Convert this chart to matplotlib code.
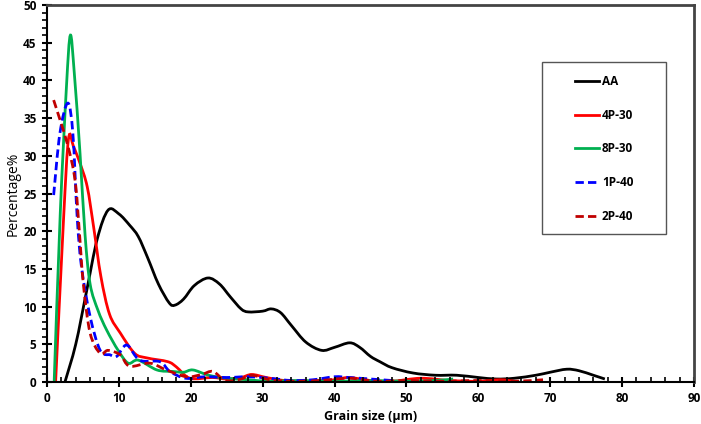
import matplotlib.pyplot as plt
import numpy as np
from matplotlib.lines import Line2D
from matplotlib.patches import PathPatch, Rectangle
from matplotlib.path import Path
from matplotlib.ticker import MultipleLocator

# AA
aa_x = [2.5, 4, 5.5, 7, 8.5, 10, 11.5, 12.7, 14, 15.5, 17, 17.8, 19, 20.5, 22.4, 24, 25.5, 27, 28,
        30, 31.2, 32.5, 34, 36, 38.2, 40, 42.1, 43.5, 45, 46.3, 48, 50.9, 54, 57, 60, 62.5, 65,
        68, 70, 72.3, 74, 76, 77.6]
aa_y = [0, 5, 12, 19, 22.8, 22.3, 20.8, 19.3, 16.5, 13, 10.5, 10.2, 11, 12.8, 13.8, 13, 11.3, 9.7, 9.3,
        9.4, 9.7, 9.2, 7.5, 5.3, 4.2, 4.6, 5.2, 4.6, 3.4, 2.7, 1.9, 1.2, 0.9, 0.9, 0.6, 0.4, 0.5,
        0.9, 1.3, 1.7, 1.5, 0.9, 0.4]

# 4P-30
p4_x = [1.2, 2.3, 3.0, 3.7, 4.6, 5.6, 6.5, 7.5, 8.7, 10.2, 12.2, 13.9, 16.8, 18, 19.9,
        23, 25, 27, 28.5, 30.5, 33, 36, 40, 42, 45, 48, 52, 56, 60, 63, 65]
p4_y = [0, 21.5, 32.3, 31.2, 29, 25.9, 20.5, 14, 9, 6.5, 3.8, 3.2, 2.7, 2.0, 0.5,
        0.6, 0.4, 0.6, 1.0, 0.6, 0.2, 0.1, 0.3, 0.6, 0.2, 0.1, 0.5, 0.2, 0.1, 0.3, 0.1]

# 8P-30
p8_x = [1, 1.85, 2.7, 3.25, 3.8, 4.6, 5.3, 6, 7.1, 8.3, 9.9, 11.3, 12.7, 15.3, 17.5, 19, 20.3,
        22.5, 25, 28, 31, 35, 40, 45, 50, 54, 56.5]
p8_y = [0, 22.4, 39, 46, 41, 30.3, 19.5, 13, 9.5, 6.9, 4.2, 2.5, 2.9, 1.6, 1.4, 1.3, 1.6,
        0.9, 0.5, 0.3, 0.1, 0.2, 0.1, 0.2, 0.1, 0.2, 0.4]

# 1P-40
p1_x = [0.93, 1.8, 2.9, 3.6, 4.2, 4.8, 6, 7.4, 8.8, 9.7, 11.1, 12.9, 15.7, 17.1, 19.3,
        22, 25, 28, 31, 34, 37, 40, 42, 45, 48]
p1_y = [24.8, 33, 37, 33, 21.9, 15.3, 8.7, 4.2, 3.6, 3.4, 4.9, 2.9, 2.7, 1.4, 0.5,
        0.7, 0.6, 0.7, 0.5, 0.2, 0.3, 0.7, 0.6, 0.4, 0.2]

# 2P-40
p2_x = [0.93, 2.8, 3.9, 4.5, 5.05, 6, 7.4, 8.5, 10.2, 11.5, 14.3, 16.6, 19.4, 21.5, 23.1, 24.8,
        27, 28.5, 31, 34, 38, 42, 46, 50, 55, 60, 65, 69]
p2_y = [37.4, 31.7, 26.8, 20, 13.1, 6.5, 3.8, 4.2, 3.6, 2.1, 2.5, 1.6, 0.7, 1.0, 1.4, 0.2,
        0.4, 0.9, 0.3, 0.1, 0.2, 0.5, 0.1, 0.2, 0.1, 0.2, 0.1, 0.3]


def smooth_path(xs, ys):
    # Excel-style smoothed line: Catmull-Rom segments as cubic Bezier curves
    p = np.column_stack([xs, ys]).astype(float)
    verts = [p[0]]
    codes = [Path.MOVETO]
    n = len(p)
    for i in range(n - 1):
        p0 = p[max(i - 1, 0)]
        p1, p2 = p[i], p[i + 1]
        p3 = p[min(i + 2, n - 1)]
        verts += [p1 + (p2 - p0) / 6, p2 - (p3 - p1) / 6, p2]
        codes += [Path.CURVE4] * 3
    return Path(verts, codes)


plt.rcParams['font.family'] = ['Open Sans', 'DejaVu Sans']

fig = plt.figure(figsize=(7.01, 4.24), dpi=100)
ax = fig.add_axes([0.067, 0.099, 0.923, 0.889])

dash = (0, (3, 1.5))
series = [
    (aa_x, aa_y, 'black', '-', 'AA'),
    (p4_x, p4_y, '#ff0000', '-', '4P-30'),
    (p8_x, p8_y, '#00b050', '-', '8P-30'),
    (p1_x, p1_y, '#0000ff', dash, '1P-40'),
    (p2_x, p2_y, '#c00000', dash, '2P-40'),
]
handles = []
for xs, ys, col, ls, lab in series:
    ax.add_patch(PathPatch(smooth_path(xs, ys), fill=False, edgecolor=col, lw=2,
                           ls=ls, capstyle='butt', clip_on=True))
    handles.append(Line2D([], [], color=col, lw=2, ls=ls, label=lab))

ax.set_xlim(0, 90)
ax.set_ylim(0, 50)
ax.xaxis.set_major_locator(MultipleLocator(10))
ax.xaxis.set_minor_locator(MultipleLocator(2))
ax.yaxis.set_major_locator(MultipleLocator(5))
ax.yaxis.set_minor_locator(MultipleLocator(1))
ax.tick_params(which='major', direction='inout', length=7, width=1.5, labelsize=8.5, pad=4)
ax.tick_params(which='minor', direction='in', length=3.5, width=1.2)
ax.tick_params(axis='y', which='minor', direction='out')
for lab in ax.get_xticklabels() + ax.get_yticklabels():
    lab.set_fontweight('bold')

for s in ['left', 'bottom']:
    ax.spines[s].set_linewidth(1.5)
for s in ['top', 'right']:
    ax.spines[s].set_linewidth(2)
    ax.spines[s].set_color('#444444')

ax.set_xlabel('Grain size (\u00b5m)', fontsize=9, fontweight='bold', labelpad=3)
ax.set_ylabel('Percentage%', fontsize=10, labelpad=2)

# legend box drawn separately so its padding matches the reference
ax.add_patch(Rectangle((0.765, 0.394), 0.191, 0.456, transform=ax.transAxes,
                       fill=True, facecolor='white', edgecolor='#555555', lw=1, zorder=4))
leg = ax.legend(handles=handles, loc='upper left', bbox_to_anchor=(0.79, 0.858),
                fontsize=8.5, handlelength=2.1, handletextpad=0.2, labelspacing=1.75,
                borderpad=0.9, frameon=False)
leg.set_zorder(5)
for t in leg.get_texts():
    t.set_fontweight('bold')

fig.savefig('out.png', dpi=100)
